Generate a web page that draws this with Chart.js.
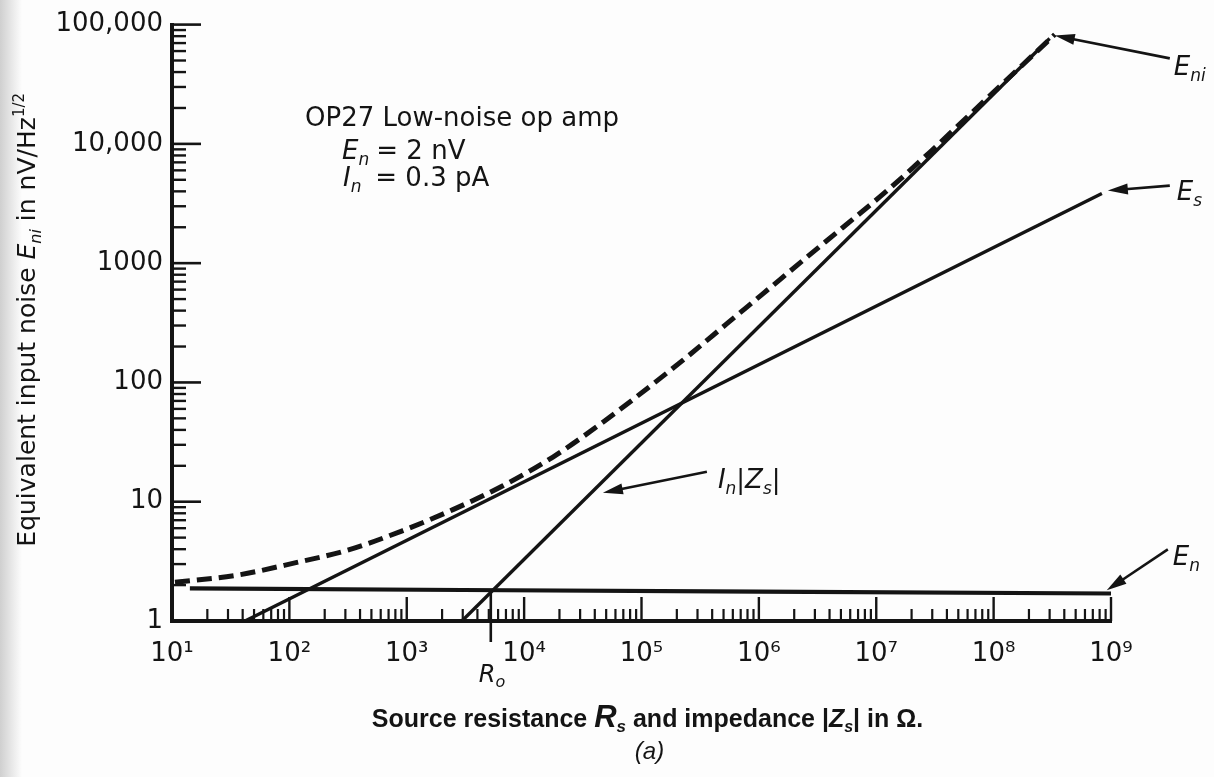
<!DOCTYPE html>
<html>
<head>
<meta charset="utf-8">
<script src="https://cdn.jsdelivr.net/npm/chart.js@4.4.0/dist/chart.umd.min.js"></script>
<style>
html,body{margin:0;padding:0;background:#fff;}
canvas{display:block;}
</style>
</head>
<body>
<canvas id="c" width="1214" height="777"></canvas>
<script>
// ---------- data ----------
const xTickValues = [1e1, 1e2, 1e3, 1e4, 1e5, 1e6, 1e7, 1e8, 1e9];
const xTickLabels = ['10¹', '10²', '10³', '10⁴', '10⁵', '10⁶', '10⁷', '10⁸', '10⁹'];
const yTickValues = [1, 10, 100, 1000, 10000, 100000];
const yTickLabels = ['1', '10', '100', '1000', '10,000', '100,000'];

// E_n : op-amp voltage noise (nearly flat)
const enR = [14.2, 3000, 1.0e6, 1.03e9];
const enV = [1.88, 1.82, 1.76, 1.70];
// E_s : thermal noise of source resistance
const esR = [41.9, 8.36e8];
const esV = [1, 3830];
// I_n|Z_s| : current-noise contribution
const inR = [2950, 3.0e8];
const inV = [1, 76400];
// E_ni : total equivalent input noise (dashed)
const eniR = [10.6, 35.8, 116, 309, 928, 2475, 6597, 17600, 46900, 125100, 248500, 534000,
              1.08e6, 2.56e6, 5.19e6, 1.23e7, 2.86e7, 6.27e7, 3.32e8];
const eniV = [2.11, 2.42, 3.10, 3.91, 5.73, 8.58, 13.6, 23.7, 46.4, 97.0, 166, 311,
              553, 1122, 1992, 4036, 8511, 17620, 82550];
// optimum source resistance marker
const rO = 5200;

// annotation anchors (data coordinates): [tailR, tailV, tipR, tipV, labelR, labelV]
const annEni = [3.17e9, 52100, 3.32e8, 80900, 3.43e9, 37600];
const annEs  = [3.17e9, 4467, 9.4e8, 4058, 3.63e9, 3415];
const annIn  = [360600, 17.8, 46900, 11.9, 447700, 13.1];
const annEn  = [3.05e9, 3.98, 9.2e8, 1.81, 3.36e9, 2.93];
const noteAnchor = [136, 14130];

// ---------- helpers ----------
const INK = '#141414';
const DV = '"DejaVu Sans"';
const N26 = '26px ' + DV, I26 = 'italic 26px ' + DV, I17 = 'italic 17px ' + DV;

function drawRich(ctx, segs, x, y) {
  let cx = x;
  for (const s of segs) {
    ctx.font = s.f;
    ctx.fillText(s.t, cx + (s.dx || 0), y + (s.dy || 0));
    cx += ctx.measureText(s.t).width + (s.dx || 0);
  }
  return cx;
}
function richWidth(ctx, segs) {
  let w = 0;
  for (const s of segs) { ctx.font = s.f; w += ctx.measureText(s.t).width + (s.dx || 0); }
  return w;
}
function arrow(ctx, x1, y1, x2, y2) {
  const a = Math.atan2(y2 - y1, x2 - x1), L = 20, W = 5.5;
  const c = Math.cos(a), s = Math.sin(a);
  ctx.lineWidth = 2.6;
  ctx.beginPath(); ctx.moveTo(x1, y1); ctx.lineTo(x2 - L * 0.7 * c, y2 - L * 0.7 * s); ctx.stroke();
  ctx.beginPath();
  ctx.moveTo(x2, y2);
  ctx.lineTo(x2 - L * c + W * s, y2 - L * s - W * c);
  ctx.lineTo(x2 - L * c - W * s, y2 - L * s + W * c);
  ctx.closePath(); ctx.fill();
}
const pts = (rs, vs) => rs.map((r, i) => ({ x: r, y: vs[i] }));

// ---------- decoration plugin ----------
const deco = {
  id: 'deco',
  beforeDraw(chart) {
    const { ctx, width, height } = chart;
    ctx.save();
    ctx.fillStyle = '#fdfdfd';
    ctx.fillRect(0, 0, width, height);
    const g = ctx.createLinearGradient(0, 0, 22, 0);
    g.addColorStop(0, 'rgba(170,170,170,0.55)');
    g.addColorStop(1, 'rgba(170,170,170,0)');
    ctx.fillStyle = g;
    ctx.fillRect(0, 0, 22, height);
    ctx.restore();
  },
  afterDatasetsDraw(chart) {
    const { ctx, chartArea: a, scales: { x, y } } = chart;
    ctx.save();
    ctx.strokeStyle = INK; ctx.lineCap = 'butt';
    // y minor & major ticks (inside)
    ctx.lineWidth = 2.4;
    for (let d = 0; d < 5; d++) {
      for (let m = 2; m <= 9; m++) {
        const py = y.getPixelForValue(m * Math.pow(10, d));
        ctx.beginPath(); ctx.moveTo(a.left, py); ctx.lineTo(a.left + 14, py); ctx.stroke();
      }
    }
    ctx.lineWidth = 2.6;
    for (const v of yTickValues.slice(1)) {
      const py = y.getPixelForValue(v);
      ctx.beginPath(); ctx.moveTo(a.left, py); ctx.lineTo(a.left + 29, py); ctx.stroke();
    }
    // x minor & major ticks (inside, upward)
    ctx.lineWidth = 2.2;
    for (let d = 1; d < 9; d++) {
      for (let m = 2; m <= 9; m++) {
        const px = x.getPixelForValue(m * Math.pow(10, d));
        ctx.beginPath(); ctx.moveTo(px, a.bottom); ctx.lineTo(px, a.bottom - 12); ctx.stroke();
      }
    }
    ctx.lineWidth = 2.4;
    for (const v of xTickValues.slice(1)) {
      const px = x.getPixelForValue(v);
      ctx.beginPath(); ctx.moveTo(px, a.bottom); ctx.lineTo(px, a.bottom - 24); ctx.stroke();
    }
    // R_o marker
    const pro = x.getPixelForValue(rO);
    ctx.lineWidth = 2.6;
    ctx.beginPath(); ctx.moveTo(pro, y.getPixelForValue(enV[1])); ctx.lineTo(pro, a.bottom + 21); ctx.stroke();
    ctx.restore();
  },
  afterDraw(chart) {
    const { ctx, chartArea: a, scales: { x, y } } = chart;
    const P = (r, v) => [x.getPixelForValue(r), y.getPixelForValue(v)];
    ctx.save();
    ctx.fillStyle = INK; ctx.strokeStyle = INK;
    ctx.textBaseline = 'alphabetic'; ctx.textAlign = 'left';

    // arrows + labels
    const arrows = [
      [annEni, [{ t: 'E', f: I26 }, { t: 'ni', f: I17, dy: 6 }]],
      [annEs,  [{ t: 'E', f: I26 }, { t: 's', f: I17, dy: 6 }]],
      [annIn,  [{ t: 'I', f: I26 }, { t: 'n', f: I17, dy: 6 }, { t: '|', f: N26 }, { t: 'Z', f: I26 }, { t: 's', f: I17, dy: 6 }, { t: '|', f: N26 }]],
      [annEn,  [{ t: 'E', f: I26 }, { t: 'n', f: I17, dy: 6 }]]
    ];
    for (const [an, segs] of arrows) {
      const [tx, ty] = P(an[0], an[1]);
      const [hx, hy] = P(an[2], an[3]);
      arrow(ctx, tx, ty, hx, hy);
      const [lx, ly] = P(an[4], an[5]);
      drawRich(ctx, segs, lx, ly);
    }

    // note block
    const [nx, ny] = P(noteAnchor[0], noteAnchor[1]);
    drawRich(ctx, [{ t: 'OP27 Low-noise op amp', f: N26 }], nx, ny);
    drawRich(ctx, [{ t: 'E', f: I26 }, { t: 'n', f: I17, dy: 6 }], nx + 37, ny + 33);
    drawRich(ctx, [{ t: ' = 2 nV', f: N26 }], nx + 63, ny + 33);
    drawRich(ctx, [{ t: 'I', f: I26 }, { t: 'n', f: I17, dy: 6 }], nx + 38, ny + 60);
    drawRich(ctx, [{ t: ' = 0.3 pA', f: N26 }], nx + 62, ny + 60);

    // R_o label
    const pro = x.getPixelForValue(rO);
    drawRich(ctx, [{ t: 'R', f: 'italic 24px ' + DV }, { t: 'o', f: 'italic 16px ' + DV, dy: 5 }], pro - 12, a.bottom + 61);

    // x axis title
    const LB = '"Liberation Sans"';
    const xt = [
      { t: 'Source resistance ', f: 'bold 25px ' + LB },
      { t: 'R', f: 'italic bold 31px ' + LB },
      { t: 's', f: 'italic bold 17px ' + LB, dy: 5 },
      { t: ' and impedance |', f: 'bold 25px ' + LB },
      { t: 'Z', f: 'italic bold 25px ' + LB },
      { t: 's', f: 'italic bold 16px ' + LB, dy: 5 },
      { t: '| in Ω.', f: 'bold 25px ' + LB }
    ];
    const cx = (a.left + a.right) / 2 + 6;
    drawRich(ctx, xt, cx - richWidth(ctx, xt) / 2, a.bottom + 106);
    ctx.font = 'italic 24px ' + LB;
    ctx.textAlign = 'center';
    ctx.fillText('(a)', cx + 2, a.bottom + 138);
    ctx.textAlign = 'left';

    // y axis title (rotated)
    const yt = [
      { t: 'Equivalent input noise ', f: '25px ' + DV },
      { t: 'E', f: 'italic 25px ' + DV },
      { t: 'ni', f: 'italic 16px ' + DV, dy: 6 },
      { t: ' in nV/Hz', f: '25px ' + DV },
      { t: '1/2', f: '15px ' + DV, dy: -11 }
    ];
    ctx.save();
    ctx.translate(35, (a.top + a.bottom) / 2 - 3);
    ctx.rotate(-Math.PI / 2);
    drawRich(ctx, yt, -richWidth(ctx, yt) / 2, 0);
    ctx.restore();

    ctx.restore();
  }
};

// ---------- chart ----------
const lineDs = (label, data, w, extra) => Object.assign({
  label, data, borderColor: INK, borderWidth: w, pointRadius: 0, fill: false, tension: 0
}, extra || {});

new Chart(document.getElementById('c').getContext('2d'), {
  type: 'line',
  data: {
    datasets: [
      lineDs('E_ni', pts(eniR, eniV), 5, { borderDash: [15, 7], tension: 0.4, cubicInterpolationMode: 'monotone' }),
      lineDs('I_n|Z_s|', pts(inR, inV), 3.4),
      lineDs('E_s', pts(esR, esV), 3.4),
      lineDs('E_n', pts(enR, enV), 4.2)
    ]
  },
  options: {
    responsive: false,
    animation: false,
    devicePixelRatio: 1,
    events: [],
    layout: { padding: { left: 0, top: 21, right: 103, bottom: 116 } },
    plugins: { legend: { display: false }, tooltip: { enabled: false }, title: { display: false } },
    scales: {
      x: {
        type: 'logarithmic', position: 'bottom', min: 10, max: 1e9,
        afterBuildTicks: s => { s.ticks = xTickValues.map(v => ({ value: v, major: true })); },
        afterFit: s => { s.height = 40; },
        grid: { display: true, drawOnChartArea: false, drawTicks: false },
        border: { display: true, width: 4, color: INK },
        ticks: {
          autoSkip: false, maxRotation: 0, minRotation: 0, padding: 18, color: INK,
          font: { family: 'DejaVu Sans', size: 26 },
          callback: (v, i) => xTickLabels[i]
        }
      },
      y: {
        type: 'logarithmic', position: 'left', min: 1, max: 1e5,
        afterBuildTicks: s => { s.ticks = yTickValues.map(v => ({ value: v, major: true })); },
        afterFit: s => { s.width = 172; },
        grid: { display: true, drawOnChartArea: false, drawTicks: false },
        border: { display: true, width: 4, color: INK },
        ticks: {
          autoSkip: false, padding: 9, color: INK,
          font: { family: 'DejaVu Sans', size: 26 },
          callback: (v, i) => yTickLabels[i]
        }
      }
    }
  },
  plugins: [deco]
});
</script>
</body>
</html>
